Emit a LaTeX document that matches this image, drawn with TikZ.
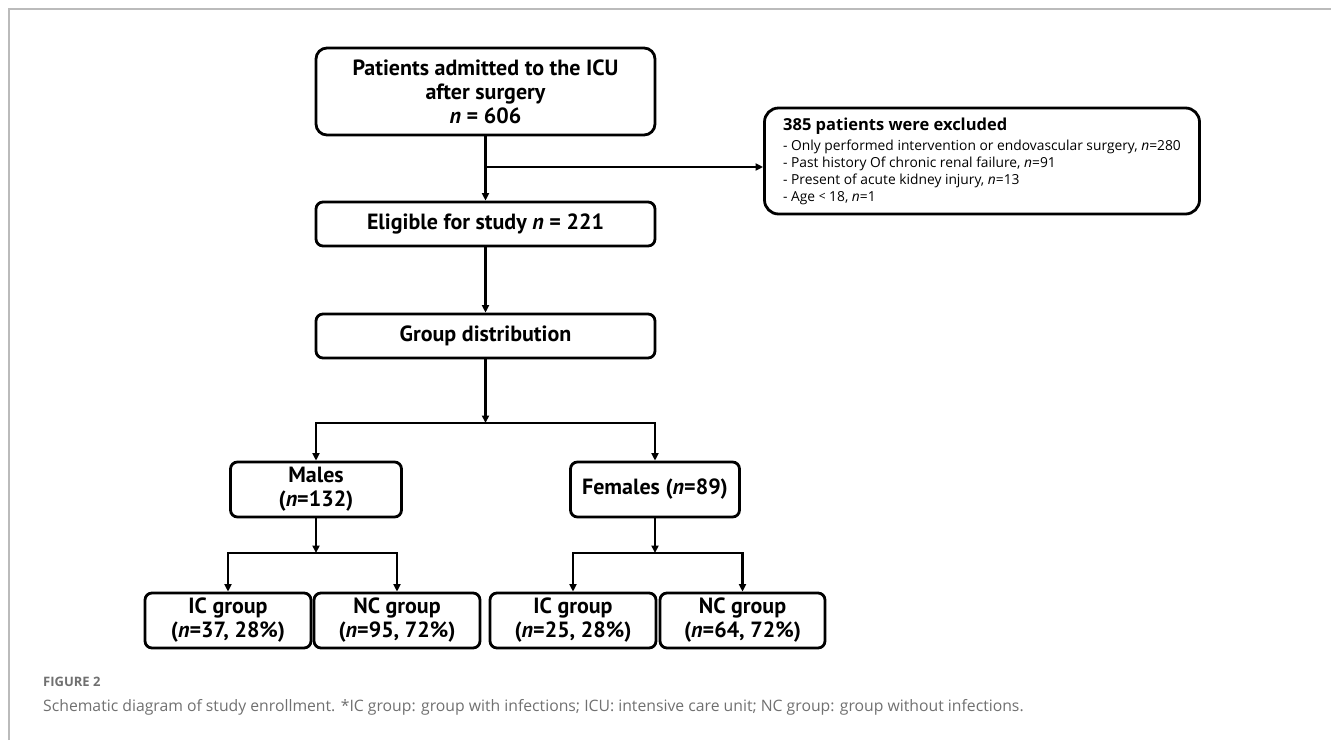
\documentclass[tikz,border=0pt]{standalone}
\usepackage{fontspec}
\setmainfont{PT Sans}
\newfontfamily\exfont{Open Sans}
\newfontfamily\capfont{Open Sans}
\usetikzlibrary{arrows.meta,calc}
\definecolor{framegray}{HTML}{BBBBBB}
\definecolor{capgray}{HTML}{707070}
\begin{document}
\begin{tikzpicture}[x=1pt,y=-1pt,
  box/.style={draw=black, line width=2.8pt, rounded corners=7pt, align=center, inner sep=0pt,
    font=\fontsize{22}{24}\selectfont\bfseries},
  arr/.style={line width=2.4pt, -{Triangle[length=7.5pt,width=7pt]}},
  ln/.style={line width=2.4pt}]
\useasboundingbox (0,0) rectangle (1331,740);
\draw[draw=framegray, line width=2pt] (9,740) -- (9,9) -- (1331,9);

\node[box, minimum width=339pt, minimum height=87pt, rounded corners=11pt] (top) at (485.5,91.5)
  {Patients admitted to the ICU\\after surgery\\\textit{n} = 606};
\node[box, minimum width=435pt, minimum height=106pt, rounded corners=14pt, align=left,
  font=\exfont\fontsize{13.8}{17}\selectfont] (excl) at (982,161)
  {{\bfseries\fontsize{16.5}{17}\selectfont 385 patients were excluded}\\[3pt]
   - Only performed intervention or endovascular surgery, \textit{n}=280\\
   - Past history Of chronic renal failure, \textit{n}=91\\
   - Present of acute kidney injury, \textit{n}=13\\
   - Age {\fontsize{12}{17}\selectfont\raisebox{0.5pt}{<}} 18, \textit{n}=1};
\node[box, minimum width=339pt, minimum height=44pt] (elig) at (485.5,224)
  {Eligible for study \textit{n} = 221};
\node[box, minimum width=339pt, minimum height=44pt] (grp) at (485.5,336)
  {Group distribution};
\node[box, minimum width=171pt, minimum height=55pt] (males) at (316,489.5)
  {Males\\(\textit{n}=132)};
\node[box, minimum width=169pt, minimum height=55pt] (females) at (655,489.5)
  {Females (\textit{n}=89)};
\node[box, minimum width=166pt, minimum height=55pt] (icm) at (228,620.5)
  {IC group\\(\textit{n}=37, 28\%)};
\node[box, minimum width=166pt, minimum height=55pt] (ncm) at (397,620.5)
  {NC group\\(\textit{n}=95, 72\%)};
\node[box, minimum width=166pt, minimum height=55pt] (icf) at (573,620.5)
  {IC group\\(\textit{n}=25, 28\%)};
\node[box, minimum width=165pt, minimum height=55pt] (ncf) at (742.5,620.5)
  {NC group\\(\textit{n}=64, 72\%)};

\coordinate (j1) at (485.5,167);
\coordinate (j2) at (485.5,423);
\coordinate (j3) at (316,553);
\coordinate (j4) at (655,553);

\draw[arr] (top.south) -- (elig.north);
\draw[arr] (j1) -- (j1 -| excl.west);
\draw[arr] (elig.south) -- (grp.north);
\draw[arr] (grp.south) -- (j2);
\draw[arr] (j2) -| (males.north);
\draw[arr] (j2) -| (females.north);
\draw[arr] (males.south) -- (j3);
\draw[arr] (j3) -| (icm.north);
\draw[arr] (j3) -| (ncm.north);
\draw[arr] (females.south) -- (j4);
\draw[arr] (j4) -| (icf.north);
\draw[arr] (j4) -| (ncf.north);

\node[anchor=base west, inner sep=0pt, text=capgray, font=\capfont\bfseries\fontsize{13}{14}\selectfont] (fig) at (43,686) {FIGURE 2};
\node[anchor=base west, inner sep=0pt, text=capgray, font=\capfont\fontsize{15.75}{18}\selectfont] (cap) at (43,711)
  {Schematic diagram of study enrollment. *IC group: group with infections; ICU: intensive care unit; NC group: group without infections.};
\end{tikzpicture}
\end{document}
